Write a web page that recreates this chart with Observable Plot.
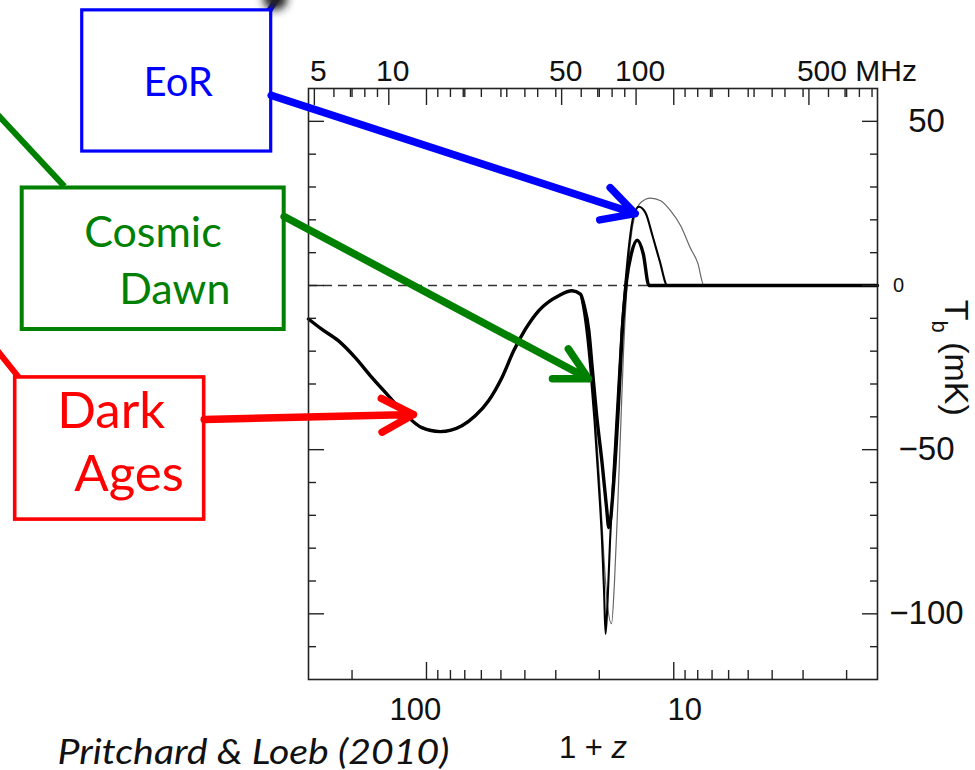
<!DOCTYPE html>
<html>
<head>
<meta charset="utf-8">
<style>
  html, body { margin: 0; padding: 0; background: #fff; }
  #chart { width: 975px; height: 770px; overflow: hidden; }
</style>
<script src="https://cdn.jsdelivr.net/npm/d3@7"></script>
<script src="https://cdn.jsdelivr.net/npm/@observablehq/plot@0.6"></script>
</head>
<body>
<div id="chart"></div>
<script>
// ---------- data: x = 1 + z, y = T_b (mK) ----------
const NU21 = 1420.4; // MHz, rest-frame 21-cm frequency (top axis)

// part shared by all three models (Dark Ages trough up to the Cosmic Dawn turnover)
const zShared  = [300, 265.3, 227.3, 194.5, 166.4, 142.6, 122, 104.4, 88.0, 71.9, 63.5, 56.1, 49.5, 44.4, 39.8, 35.2, 29.2, 25.8];
const tbShared = [-10.2, -13.3, -16.8, -21.9, -28.0, -33.6, -39.2, -43.3, -44.5, -42.7, -39.7, -35.1, -28.0, -19.9, -13.3, -7.7, -3.1, -1.6];

// thick curve
const zThick  = [23.84, 23.1, 22.05, 21.37, 20.53, 19.47, 18.70, 18.31, 17.47, 16.67, 16.15, 15.52, 14.85, 14.05, 13.28, 12.60, 1.5];
const tbThick = [-2.6, -5.7, -13.8, -25.0, -39.2, -54.4, -67.6, -73.7, -59.5, -34.1, -13.8, 1.4, 9.6, 13.8, 9.6, 0, 0];

// medium curve
const zMid  = [23.84, 23.39, 22.54, 21.71, 20.92, 20.15, 19.50, 19.14, 18.87, 18.52, 18.10, 17.52, 16.88, 16.26, 15.66, 15.09, 14.54, 13.84, 13.00, 12.18, 11.40, 10.61, 1.5];
const tbMid = [-2.7, -5.6, -13.8, -26, -41, -59.5, -77.8, -93, -106.1, -96, -77.8, -56.5, -35, -13.8, 1.4, 13.6, 21.2, 24.0, 22.1, 15.1, 7.5, 0, 0];

// thin grey curve
const zThin  = [23.84, 23.18, 22.33, 21.51, 20.73, 19.96, 19.23, 18.61, 17.85, 17.36, 16.88, 16.41, 15.96, 15.45, 14.95, 14.40, 13.62, 12.41, 11.30, 10.29, 9.38, 8.54, 8.00, 7.55, 1.5];
const tbThin = [-2.7, -5.6, -13.8, -26, -41, -59.5, -80.8, -96, -103, -90, -68.6, -44.2, -19.8, 0, 13.6, 21.2, 25.2, 26.6, 25.8, 22.7, 18.2, 11.2, 6.9, 0, 0];

// ---------- ticks and labels ----------
const zMajorTicks = [100, 10];
const zMinorTicks = [200, 90, 80, 70, 60, 50, 40, 30, 20, 9, 8, 7, 6, 5, 4, 3, 2];
const zTickLabels = ["100", "10"];
const freqMajorTicks = [5, 10, 50, 100, 500];
const freqMinorTicks = [6, 7, 8, 9, 20, 30, 40, 60, 70, 80, 90, 200, 300, 400, 600, 700, 800, 900];
const freqTickLabels = ["5", "10", "50", "100", "500 MHz"];
const tbMajorTicks = [50, 0, -50, -100];
const tbMinorTicks = [40, 30, 20, 10, -10, -20, -30, -40, -60, -70, -80, -90, -110];
const tbTickLabels = ["50", "0", "−50", "−100"];

// ---------- callouts (anchored in data units: 1+z, mK) ----------
const calloutNames  = ["EoR", "Cosmic Dawn", "Dark Ages"];
const calloutColors = ["#0000ff", "#008000", "#ff0000"];
const boxZ1  = [2467, 4314, 4605];
const boxZ2  = [424.6, 376.2, 792.5];
const boxTb1 = [83.8, 29.7, -28.0];
const boxTb2 = [40.8, -13.4, -71.3];
const boxStroke = [3.2, 4, 3.6];
const arrowFromZ  = [424.6, 376.2, 792.5];
const arrowFromTb = [57.9, 21.0, -40.8];
const arrowToZ    = [14.32, 22.13, 112.9];
const arrowToTb   = [21.9, -28.4, -39.3];
const calloutLines = ["EoR", "Cosmic", "Dawn", "Dark", "Ages"];
const lineOwner    = [0, 1, 1, 2, 2];
const lineZ  = [1009, 2423, 1748, 3114, 2658];
const lineTb = [57.6, 11.6, -5.5, -43.3, -62.7];
const lineSize = [40, 43, 43, 51, 51];
// cut-off connector stubs from the surrounding slide
const stubColors = ["#008000", "#ff0000", "#0000ff"];
const stubZ1 = [5812, 5812, 436.7];
const stubTb1 = [54.5, -17.1, 83.2];
const stubZ2 = [2912, 4452, 383.2];
const stubTb2 = [30.2, -28.0, 89.9];

// ---------- build tables ----------
const series = (name, zs, tbs) => zs.map((z, i) => ({series: name, z, tb: tbs[i]}));
const thin  = series("thin",  zShared.concat(zThin),  tbShared.concat(tbThin));
const mid   = series("mid",   zShared.concat(zMid),   tbShared.concat(tbMid));
const thick = series("thick", zShared.concat(zThick), tbShared.concat(tbThick));
const boxes = calloutNames.map((name, i) => ({name, color: calloutColors[i], z1: boxZ1[i], z2: boxZ2[i], tb1: boxTb1[i], tb2: boxTb2[i], sw: boxStroke[i]}));
const arrows = calloutNames.map((name, i) => ({name, color: calloutColors[i], z1: arrowFromZ[i], tb1: arrowFromTb[i], z2: arrowToZ[i], tb2: arrowToTb[i]}));
const texts = calloutLines.map((t, i) => ({t, color: calloutColors[lineOwner[i]], z: lineZ[i], tb: lineTb[i], size: lineSize[i]}));
const stubs = stubColors.map((c, i) => ({c, z1: stubZ1[i], tb1: stubTb1[i], z2: stubZ2[i], tb2: stubTb2[i]}));

const AX = "#222";
const numFont = "'Liberation Sans', Arial, Helvetica, sans-serif";
const calFont = "Lato, 'Open Sans', sans-serif";

const marks = [
  Plot.ruleY([0], {stroke: "#333", strokeWidth: 1.6, strokeDasharray: "9,6"}),
  Plot.line(thin,  {x: "z", y: "tb", stroke: "#666", strokeWidth: 1.2, curve: "monotone-x"}),
  Plot.line(mid,   {x: "z", y: "tb", stroke: "#000", strokeWidth: 2.1, curve: "monotone-x"}),
  Plot.line(thick, {x: "z", y: "tb", stroke: "#000", strokeWidth: 3.4, curve: "monotone-x"}),
  Plot.frame({stroke: AX, strokeWidth: 1.6}),
  // bottom axis (1+z)
  Plot.axisX(zMajorTicks, {anchor: "bottom", tickSize: -17, tickFormat: () => "", label: null, stroke: AX, strokeWidth: 1.4}),
  Plot.axisX(zMinorTicks, {anchor: "bottom", tickSize: -9, tickFormat: () => "", label: null, stroke: AX, strokeWidth: 1.4}),
  // top axis (frequency, plus mirrored 1+z ticks)
  Plot.axisX(freqMajorTicks.map(f => NU21 / f), {anchor: "top", tickSize: -16, tickFormat: () => "", label: null, stroke: AX, strokeWidth: 1.4}),
  Plot.axisX(freqMinorTicks.map(f => NU21 / f), {anchor: "top", tickSize: -8, tickFormat: () => "", label: null, stroke: AX, strokeWidth: 1.4}),
  Plot.axisX(zMajorTicks, {anchor: "top", tickSize: -16, tickFormat: () => "", label: null, stroke: AX, strokeWidth: 1.4}),
  Plot.axisX(zMinorTicks, {anchor: "top", tickSize: -8, tickFormat: () => "", label: null, stroke: AX, strokeWidth: 1.4}),
  // left / right axes (T_b)
  Plot.axisY(tbMajorTicks, {anchor: "left", tickSize: -16, tickFormat: () => "", label: null, stroke: AX, strokeWidth: 1.4}),
  Plot.axisY(tbMinorTicks, {anchor: "left", tickSize: -8, tickFormat: () => "", label: null, stroke: AX, strokeWidth: 1.4}),
  Plot.axisY(tbMajorTicks, {anchor: "right", tickSize: -16, tickFormat: () => "", label: null, stroke: AX, strokeWidth: 1.4}),
  Plot.axisY(tbMinorTicks, {anchor: "right", tickSize: -8, tickFormat: () => "", label: null, stroke: AX, strokeWidth: 1.4}),
  // tick labels
  Plot.text([0], {x: i => zMajorTicks[i], text: i => zTickLabels[i], frameAnchor: "bottom", lineAnchor: "top", dy: 18, dx: -11, fontSize: 31, fontFamily: numFont, fill: "#111"}),
  Plot.text([1], {x: i => zMajorTicks[i], text: i => zTickLabels[i], frameAnchor: "bottom", lineAnchor: "top", dy: 18, dx: 11, fontSize: 31, fontFamily: numFont, fill: "#111"}),
  Plot.text([0, 1, 2, 3], {x: i => NU21 / freqMajorTicks[i], text: i => freqTickLabels[i], frameAnchor: "top", lineAnchor: "bottom", dy: -8, dx: 4, fontSize: 30, fontFamily: numFont, fill: "#111"}),
  Plot.text([4], {x: i => NU21 / freqMajorTicks[i], text: i => freqTickLabels[i], frameAnchor: "top", lineAnchor: "bottom", textAnchor: "start", dy: -8, dx: -12, fontSize: 30, fontFamily: numFont, fill: "#111"}),
  Plot.text([0, 2, 3], {y: i => tbMajorTicks[i], text: i => tbTickLabels[i], frameAnchor: "right", textAnchor: "middle", lineAnchor: "middle", dx: 49, fontSize: 33, fontFamily: numFont, fill: "#111"}),
  Plot.text([1], {y: i => tbMajorTicks[i], text: i => tbTickLabels[i], frameAnchor: "right", textAnchor: "middle", lineAnchor: "middle", dx: 21, fontSize: 20, fontFamily: numFont, fill: "#111"}),
  // axis titles
  Plot.text(["1 + z"], {text: d => d, frameAnchor: "bottom", lineAnchor: "bottom", dy: 78, fontSize: 31, fontFamily: numFont, fill: "#111"}),
  Plot.text(["Tb (mK)"], {text: d => d, y: () => -22, frameAnchor: "right", rotate: 90, textAnchor: "middle", lineAnchor: "middle", dx: 78, fontSize: 34, fontFamily: numFont, fill: "#111"}),
  // credit
  Plot.text(["Pritchard & Loeb (2010)"], {text: d => d, frameAnchor: "bottom-left", textAnchor: "start", lineAnchor: "bottom", dx: -251, dy: 84, fontSize: 34, fontStyle: "italic", fontFamily: calFont, fill: "#111"}),
  // callouts
  Plot.link(stubs, {x1: "z1", y1: "tb1", x2: "z2", y2: "tb2", stroke: "c", strokeWidth: 6}),
  Plot.dot([0], {x: () => 409, y: () => 87.5, r: 12, fill: "#222", stroke: "none", className: "blob"}),
  Plot.rect(boxes, {x1: "z1", x2: "z2", y1: "tb1", y2: "tb2", stroke: "color", strokeWidth: "sw", fill: "white"}),
  Plot.arrow(arrows, {x1: "z1", y1: "tb1", x2: "z2", y2: "tb2", stroke: "color", strokeWidth: 7.5, headLength: 7.2, headAngle: 56, strokeLinecap: "round", strokeLinejoin: "round"}),
  Plot.text(texts.filter(d => d.size === 40), {x: "z", y: "tb", text: "t", fill: "color", fontSize: 40, textAnchor: "middle", lineAnchor: "bottom", fontFamily: calFont}),
  Plot.text(texts.filter(d => d.size === 43), {x: "z", y: "tb", text: "t", fill: "color", fontSize: 43, textAnchor: "start", lineAnchor: "bottom", fontFamily: calFont}),
  Plot.text(texts.filter(d => d.size === 51), {x: "z", y: "tb", text: "t", fill: "color", fontSize: 51, textAnchor: "start", lineAnchor: "bottom", fontFamily: calFont})
];

const chart = Plot.plot({
  width: 975,
  height: 770,
  marginLeft: 308,
  marginRight: 98,
  marginTop: 88,
  marginBottom: 91,
  style: {background: "white", fontFamily: numFont},
  x: {type: "log", domain: [300, 1.5], label: null},
  y: {domain: [-120, 60], label: null},
  color: {type: "identity"},
  marks
});
document.getElementById("chart").appendChild(chart);

// rich-text touches: subscript b, italic z, credit width; soft blur on the cut-off shadow blob
const svg = d3.select(chart);
svg.selectAll("text").each(function() {
  const t = d3.select(this);
  const s = this.textContent;
  if (s === "Tb (mK)") t.html('T<tspan baseline-shift="sub" font-size="22">b</tspan> (mK)');
  if (s === "1 + z") t.html('1 + <tspan font-style="italic">z</tspan>');
  if (s === "Pritchard & Loeb (2010)") t.attr("textLength", 392).attr("lengthAdjust", "spacingAndGlyphs");
});
const defs = svg.insert("defs", ":first-child");
defs.append("filter").attr("id", "soft").attr("x", "-50%").attr("y", "-50%").attr("width", "200%").attr("height", "200%")
  .append("feGaussianBlur").attr("stdDeviation", 4);
svg.selectAll(".blob").attr("filter", "url(#soft)");
</script>
</body>
</html>
